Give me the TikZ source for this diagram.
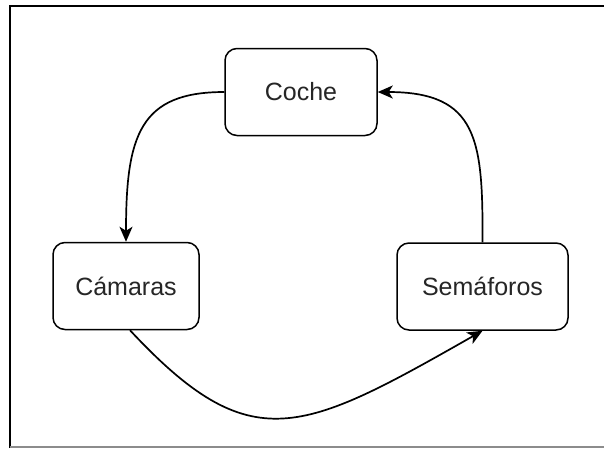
\documentclass[tikz,border=0pt]{standalone}
\usepackage{fontspec}
\setmainfont{Liberation Sans}
\usetikzlibrary{arrows.meta}

\begin{document}
\begin{tikzpicture}[x=1pt,y=-1pt,
  box/.style={draw=black, line width=1.5pt, rounded corners=12pt, fill=white,
    inner sep=0pt, text=black!85, font=\fontsize{25}{30}\selectfont},
  flow/.style={draw=black, line width=1.7pt,
    -{Stealth[length=15pt,width=13pt,inset=4pt]}}]
  \useasboundingbox (0,0) rectangle (604,448);

  % frame edges
  \draw[line width=2.5pt, black] (10,448) -- (10,6) -- (604,6);
  \draw[line width=1.5pt, black!45] (10,447) -- (604,447);

  % stations
  \node[box, minimum width=152pt, minimum height=87pt] (coche) at (301,92) {Coche};
  \node[box, minimum width=146pt, minimum height=87pt] (camaras) at (126,286) {Cámaras};
  \node[box, minimum width=171pt, minimum height=87pt] (semaforos) at (482.5,286.5) {Semáforos};

  % cycle of connectors
  \draw[flow] (coche.west) .. controls (140,92) and (126,135) .. (camaras.north);
  \draw[flow] (camaras.south) ++(4,0) coordinate (c0)
    (c0) .. controls (251,460) and (301,434) .. (semaforos.south);
  \draw[flow] (semaforos.north) .. controls (483,140) and (478,92) .. (coche.east);
\end{tikzpicture}
\end{document}
